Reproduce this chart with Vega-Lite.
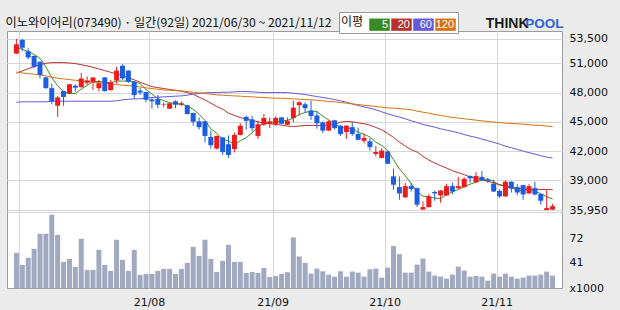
{
  "$schema": "https://vega.github.io/schema/vega-lite/v6.json",
  "autosize": "none",
  "padding": {"left": 7, "top": 31, "right": 58, "bottom": 22},
  "width": 555,
  "height": 257,
  "background": "#ebebeb",
  "config": {
    "view": {"stroke": "#9c9c9c", "fill": "white"},
    "axis": {"labelFont": "DejaVu Sans", "labelFontSize": 11, "labelColor": "#111111", "ticks": false, "tickSize": 0, "domain": false, "labelPadding": 7, "gridColor": "#d6d6d6"}
  },
  "datasets": {
    "d": [
      {"i":0,"o":52000,"h":53500,"l":51950,"c":52950,"v":53.6,"m5":52650,"m20":49980,"m60":47010,"m120":50110},
      {"i":1,"o":53400,"h":53500,"l":52250,"c":52600,"v":38.5,"m5":52450,"m20":50220,"m60":47050,"m120":50010},
      {"i":2,"o":52250,"h":52550,"l":51400,"c":51600,"v":47.3,"m5":52200,"m20":50450,"m60":47050,"m120":49940},
      {"i":3,"o":51750,"h":51800,"l":50500,"c":50650,"v":58.6,"m5":51900,"m20":50660,"m60":47050,"m120":49880},
      {"i":4,"o":51150,"h":51200,"l":49450,"c":49800,"v":77.4,"m5":51520,"m20":50860,"m60":47050,"m120":49810},
      {"i":5,"o":49550,"h":49600,"l":48400,"c":48450,"v":77.4,"m5":50620,"m20":51000,"m60":47050,"m120":49700},
      {"i":6,"o":48450,"h":48900,"l":46800,"c":47100,"v":101.2,"m5":49520,"m20":51070,"m60":47110,"m120":49570},
      {"i":7,"o":46650,"h":47650,"l":45500,"c":47500,"v":76.1,"m5":48700,"m20":51070,"m60":47110,"m120":49470},
      {"i":8,"o":48150,"h":48200,"l":46650,"c":47550,"v":42.3,"m5":48080,"m20":51070,"m60":47110,"m120":49400},
      {"i":9,"o":47900,"h":48900,"l":47850,"c":48850,"v":46.0,"m5":47890,"m20":51030,"m60":47110,"m120":49330},
      {"i":10,"o":48700,"h":48850,"l":48100,"c":48500,"v":36.0,"m5":47900,"m20":50970,"m60":47110,"m120":49260},
      {"i":11,"o":48550,"h":50000,"l":48500,"c":49450,"v":71.1,"m5":48370,"m20":50860,"m60":47110,"m120":49190},
      {"i":12,"o":49000,"h":49650,"l":48800,"c":49250,"v":32.2,"m5":48720,"m20":50730,"m60":47110,"m120":49130},
      {"i":13,"o":49100,"h":49550,"l":48250,"c":49550,"v":32.2,"m5":49120,"m20":50590,"m60":47110,"m120":49060},
      {"i":14,"o":48450,"h":49300,"l":48100,"c":48950,"v":57.3,"m5":49140,"m20":50420,"m60":47110,"m120":49020},
      {"i":15,"o":49550,"h":49600,"l":48100,"c":48150,"v":38.5,"m5":49070,"m20":50250,"m60":47110,"m120":48950},
      {"i":16,"o":48250,"h":49300,"l":48200,"c":49050,"v":31.0,"m5":48990,"m20":50080,"m60":47110,"m120":48890},
      {"i":17,"o":49250,"h":50650,"l":48900,"c":50250,"v":69.9,"m5":49190,"m20":49910,"m60":47150,"m120":48820},
      {"i":18,"o":50750,"h":50900,"l":49300,"c":49450,"v":44.8,"m5":49170,"m20":49740,"m60":47250,"m120":48750},
      {"i":19,"o":50250,"h":50300,"l":49000,"c":49100,"v":31.0,"m5":49200,"m20":49530,"m60":47320,"m120":48720},
      {"i":20,"o":49100,"h":49150,"l":47350,"c":47750,"v":57.3,"m5":49120,"m20":49300,"m60":47350,"m120":48650},
      {"i":21,"o":48200,"h":48500,"l":47750,"c":48000,"v":25.9,"m5":48910,"m20":49060,"m60":47350,"m120":48580},
      {"i":22,"o":48050,"h":48100,"l":47000,"c":47250,"v":27.2,"m5":48310,"m20":48820,"m60":47420,"m120":48480},
      {"i":23,"o":47300,"h":47500,"l":46350,"c":47100,"v":27.2,"m5":47840,"m20":48610,"m60":47490,"m120":48410},
      {"i":24,"o":47350,"h":47750,"l":46400,"c":46750,"v":31.0,"m5":47370,"m20":48510,"m60":47520,"m120":48340},
      {"i":25,"o":46750,"h":47000,"l":46500,"c":46800,"v":33.5,"m5":47180,"m20":48410,"m60":47560,"m120":48270},
      {"i":26,"o":46350,"h":46950,"l":46300,"c":46900,"v":33.5,"m5":46960,"m20":48310,"m60":47590,"m120":48240},
      {"i":27,"o":47100,"h":47200,"l":46400,"c":46750,"v":27.2,"m5":46860,"m20":48240,"m60":47630,"m120":48200},
      {"i":28,"o":46750,"h":47100,"l":46600,"c":46900,"v":33.5,"m5":46820,"m20":48140,"m60":47660,"m120":48170},
      {"i":29,"o":46700,"h":46750,"l":45750,"c":45800,"v":41.0,"m5":46630,"m20":48000,"m60":47730,"m120":48100},
      {"i":30,"o":45900,"h":45950,"l":44600,"c":45000,"v":61.1,"m5":46270,"m20":47830,"m60":47830,"m120":48030},
      {"i":31,"o":45050,"h":45450,"l":44200,"c":44450,"v":49.8,"m5":45780,"m20":47520,"m60":47900,"m120":47970},
      {"i":32,"o":45050,"h":45100,"l":42900,"c":43550,"v":69.9,"m5":45140,"m20":47250,"m60":47970,"m120":47900},
      {"i":33,"o":43450,"h":44100,"l":42250,"c":42600,"v":46.0,"m5":44280,"m20":46910,"m60":48000,"m120":47830},
      {"i":34,"o":42250,"h":43600,"l":42150,"c":43550,"v":29.7,"m5":43830,"m20":46570,"m60":48000,"m120":47760},
      {"i":35,"o":43400,"h":43450,"l":41600,"c":41900,"v":43.5,"m5":43210,"m20":46300,"m60":48030,"m120":47730},
      {"i":36,"o":42700,"h":43600,"l":41300,"c":41600,"v":63.6,"m5":43040,"m20":45890,"m60":48030,"m120":47690},
      {"i":37,"o":42200,"h":43900,"l":41850,"c":43650,"v":42.3,"m5":42660,"m20":45650,"m60":48070,"m120":47660},
      {"i":38,"o":43650,"h":44850,"l":43600,"c":44600,"v":42.3,"m5":43060,"m20":45440,"m60":48100,"m120":47630},
      {"i":39,"o":45500,"h":45650,"l":44200,"c":45100,"v":28.4,"m5":43370,"m20":45270,"m60":48100,"m120":47590},
      {"i":40,"o":45250,"h":45600,"l":44000,"c":44350,"v":29.7,"m5":43860,"m20":45140,"m60":48070,"m120":47560},
      {"i":41,"o":43550,"h":45100,"l":43250,"c":44750,"v":28.4,"m5":44490,"m20":45000,"m60":48030,"m120":47520},
      {"i":42,"o":44700,"h":45800,"l":44600,"c":45400,"v":34.7,"m5":44840,"m20":44860,"m60":48000,"m120":47490},
      {"i":43,"o":44800,"h":45450,"l":44350,"c":45050,"v":23.4,"m5":44930,"m20":44800,"m60":48000,"m120":47450},
      {"i":44,"o":44750,"h":45550,"l":44600,"c":45400,"v":24.7,"m5":44990,"m20":44730,"m60":48000,"m120":47420},
      {"i":45,"o":45450,"h":45500,"l":44750,"c":44800,"v":27.2,"m5":45080,"m20":44660,"m60":48000,"m120":47420},
      {"i":46,"o":44700,"h":45450,"l":44650,"c":45100,"v":29.3,"m5":45150,"m20":44560,"m60":48000,"m120":47390},
      {"i":47,"o":45400,"h":47150,"l":44950,"c":46450,"v":72.8,"m5":45360,"m20":44520,"m60":47930,"m120":47350},
      {"i":48,"o":46700,"h":47150,"l":45650,"c":47000,"v":49.0,"m5":45750,"m20":44560,"m60":47860,"m120":47320},
      {"i":49,"o":46800,"h":47000,"l":45900,"c":46400,"v":41.0,"m5":45950,"m20":44630,"m60":47800,"m120":47280},
      {"i":50,"o":46150,"h":47150,"l":45200,"c":45600,"v":27.6,"m5":46110,"m20":44630,"m60":47690,"m120":47250},
      {"i":51,"o":45650,"h":46050,"l":44300,"c":44850,"v":33.9,"m5":46060,"m20":44630,"m60":47590,"m120":47220},
      {"i":52,"o":44950,"h":45050,"l":43850,"c":44100,"v":30.5,"m5":45590,"m20":44630,"m60":47490,"m120":47150},
      {"i":53,"o":44100,"h":45150,"l":44050,"c":45050,"v":26.3,"m5":45200,"m20":44660,"m60":47390,"m120":47080},
      {"i":54,"o":45150,"h":45200,"l":44200,"c":44350,"v":23.8,"m5":44790,"m20":44730,"m60":47280,"m120":47050},
      {"i":55,"o":44600,"h":44650,"l":43550,"c":43750,"v":30.5,"m5":44420,"m20":44970,"m60":47150,"m120":46980},
      {"i":56,"o":43950,"h":44650,"l":43250,"c":44600,"v":23.8,"m5":44370,"m20":45030,"m60":47010,"m120":46910},
      {"i":57,"o":44450,"h":44950,"l":43550,"c":43750,"v":30.1,"m5":44300,"m20":45000,"m60":46840,"m120":46840},
      {"i":58,"o":43750,"h":44400,"l":43100,"c":43150,"v":28.8,"m5":43920,"m20":44900,"m60":46670,"m120":46770},
      {"i":59,"o":43050,"h":43800,"l":42800,"c":43350,"v":23.8,"m5":43720,"m20":44800,"m60":46530,"m120":46700},
      {"i":60,"o":43000,"h":43350,"l":42050,"c":42400,"v":33.0,"m5":43450,"m20":44660,"m60":46400,"m120":46640},
      {"i":61,"o":41700,"h":42500,"l":41450,"c":41900,"v":33.9,"m5":42910,"m20":44420,"m60":46230,"m120":46570},
      {"i":62,"o":41300,"h":42300,"l":41250,"c":42050,"v":22.6,"m5":42570,"m20":44180,"m60":46020,"m120":46500},
      {"i":63,"o":41950,"h":42000,"l":40650,"c":40700,"v":35.1,"m5":42080,"m20":43810,"m60":45820,"m120":46430},
      {"i":64,"o":39400,"h":40200,"l":38050,"c":38550,"v":62.0,"m5":41120,"m20":43400,"m60":45650,"m120":46400},
      {"i":65,"o":38300,"h":39400,"l":37000,"c":37650,"v":51.9,"m5":40170,"m20":42920,"m60":45480,"m120":46360},
      {"i":66,"o":37250,"h":38750,"l":37200,"c":38400,"v":28.8,"m5":39470,"m20":42510,"m60":45310,"m120":46300},
      {"i":67,"o":38400,"h":38750,"l":37850,"c":38100,"v":28.8,"m5":38680,"m20":42140,"m60":45100,"m120":46230},
      {"i":68,"o":38200,"h":38250,"l":36250,"c":36500,"v":38.9,"m5":37840,"m20":41900,"m60":44930,"m120":46090},
      {"i":69,"o":36000,"h":36850,"l":35980,"c":36250,"v":46.4,"m5":37380,"m20":41450,"m60":44730,"m120":45990},
      {"i":70,"o":36250,"h":37600,"l":36200,"c":37350,"v":30.1,"m5":37320,"m20":41080,"m60":44590,"m120":45890},
      {"i":71,"o":37800,"h":37950,"l":36900,"c":37650,"v":25.1,"m5":37170,"m20":40770,"m60":44450,"m120":45750},
      {"i":72,"o":37450,"h":38000,"l":36700,"c":37950,"v":23.8,"m5":37140,"m20":40500,"m60":44280,"m120":45650},
      {"i":73,"o":37450,"h":38650,"l":37400,"c":38400,"v":21.3,"m5":37520,"m20":40260,"m60":44150,"m120":45550},
      {"i":74,"o":38400,"h":38750,"l":37550,"c":37850,"v":26.3,"m5":37840,"m20":39990,"m60":44010,"m120":45440},
      {"i":75,"o":38200,"h":39350,"l":38050,"c":38400,"v":36.4,"m5":38050,"m20":39780,"m60":43880,"m120":45380},
      {"i":76,"o":38300,"h":39300,"l":38250,"c":39150,"v":31.4,"m5":38350,"m20":39580,"m60":43700,"m120":45310},
      {"i":77,"o":39450,"h":39500,"l":38750,"c":39200,"v":23.8,"m5":38600,"m20":39340,"m60":43530,"m120":45240},
      {"i":78,"o":38800,"h":39850,"l":38750,"c":39450,"v":24.7,"m5":38810,"m20":39200,"m60":43400,"m120":45170},
      {"i":79,"o":39350,"h":39950,"l":38900,"c":39000,"v":23.8,"m5":39040,"m20":39070,"m60":43230,"m120":45100},
      {"i":80,"o":39050,"h":39250,"l":38750,"c":38900,"v":18.8,"m5":39140,"m20":38900,"m60":43060,"m120":45030},
      {"i":81,"o":38650,"h":39050,"l":37800,"c":37850,"v":27.6,"m5":38880,"m20":38730,"m60":42890,"m120":44970},
      {"i":82,"o":37900,"h":38050,"l":37200,"c":37350,"v":23.8,"m5":38510,"m20":38560,"m60":42720,"m120":44930},
      {"i":83,"o":37350,"h":39000,"l":37300,"c":38850,"v":27.6,"m5":38390,"m20":38420,"m60":42510,"m120":44860},
      {"i":84,"o":38850,"h":38900,"l":37750,"c":38150,"v":23.8,"m5":38220,"m20":38280,"m60":42340,"m120":44830},
      {"i":85,"o":38300,"h":38600,"l":37450,"c":37750,"v":21.3,"m5":37990,"m20":38180,"m60":42170,"m120":44800},
      {"i":86,"o":38500,"h":38550,"l":37000,"c":37550,"v":22.6,"m5":37930,"m20":38110,"m60":42000,"m120":44760},
      {"i":87,"o":37650,"h":38600,"l":37600,"c":38400,"v":25.1,"m5":38140,"m20":38080,"m60":41830,"m120":44690},
      {"i":88,"o":38200,"h":38850,"l":37450,"c":37550,"v":25.1,"m5":37880,"m20":38050,"m60":41690,"m120":44660},
      {"i":89,"o":37600,"h":37650,"l":36500,"c":36900,"v":26.3,"m5":37630,"m20":38050,"m60":41520,"m120":44630},
      {"i":90,"o":35950,"h":38000,"l":35950,"c":36150,"v":30.1,"m5":37310,"m20":38050,"m60":41390,"m120":44560},
      {"i":91,"o":36000,"h":36600,"l":35960,"c":36350,"v":25.1,"m5":37070,"m20":38050,"m60":41280,"m120":44490}
    ]
  },
  "data": {"name": "d"},
  "encoding": {
    "x": {"field": "i", "type": "quantitative", "scale": {"domain": [-0.75, 91.75], "nice": false, "zero": false},
      "axis": {"values": [0.5, 22.5, 43.5, 62.5, 81.5], "grid": true, "labelPadding": 8, "labelOverlap": false, "labelFlush": false,
        "labelExpr": "datum.value == 22.5 ? '21/08' : datum.value == 43.5 ? '21/09' : datum.value == 62.5 ? '21/10' : datum.value == 81.5 ? '21/11' : ''",
        "title": "POOL", "titleX": 556, "titleY": -261, "titleAngle": 0, "titleAlign": "right", "titleBaseline": "alphabetic",
        "titleFont": "Liberation Sans", "titleFontSize": 13.5, "titleFontWeight": "bold", "titleColor": "#2f63d4"}}
  },
  "layer": [
    {
      "layer": [
        {
          "transform": [{"fold": ["m5", "m20", "m60", "m120"], "as": ["k", "val"]}],
          "mark": {"type": "line", "strokeWidth": 1},
          "encoding": {
            "y": {"field": "val", "type": "quantitative", "scale": {"domain": [27954, 54313], "zero": false, "nice": false},
              "axis": {"orient": "right", "values": [35749, 35950, 39000, 42000, 45000, 48000, 51000, 53500],
                "labelExpr": "datum.value === 35749 ? '' : format(datum.value, ',')",
                "title": "THINK", "titleX": -34, "titleY": -4, "titleAngle": 0, "titleAlign": "right", "titleBaseline": "alphabetic",
                "titleFont": "Liberation Sans", "titleFontSize": 14, "titleFontWeight": "bold", "titleColor": "#1c1c1c",
                "encode": {
                  "labels": {"update": {"fill": {"signal": "datum.value === 53500 ? '#cf6a0c' : datum.value === 35950 ? '#1414c8' : '#111111'"}, "dy": {"signal": "datum.value === 35950 ? -3 : 0"}}},
                  "grid": {"update": {"stroke": {"signal": "datum.value === 35749 ? '#9c9c9c' : (datum.value === 35950 || datum.value === 53500) ? 'rgba(0,0,0,0)' : '#d6d6d6'"}}}
                }}},
            "color": {"field": "k", "type": "nominal",
              "scale": {"domain": ["m5", "m20", "m60", "m120"], "range": ["#3b8a24", "#b8312b", "#6658d6", "#d8720c"]},
              "legend": {"orient": "none", "legendX": 332, "legendY": -19, "direction": "horizontal", "title": "이평", "titleOrient": "left",
                "titleFont": "Noto Sans CJK KR", "titleFontSize": 12, "titleFontWeight": "normal", "titleColor": "#111111", "titlePadding": 5,
                "symbolType": "M-1,-0.6L1,-0.6L1,0.6L-1,0.6Z", "symbolSize": 420, "labelAlign": "right", "labelOffset": -2,
                "labelColor": "white", "labelFont": "Liberation Sans", "labelFontSize": 11, "labelExpr": "replace(datum.label, 'm', '')",
                "columnPadding": 1, "padding": 2, "strokeColor": "#999999", "fillColor": "white",
                "encode": {"symbols": {"update": {"fill": {"scale": "color", "field": "value"}, "fillOpacity": {"value": 1}, "strokeWidth": {"value": 0}, "opacity": {"value": 1}}}}}}
          }
        },
        {
          "mark": {"type": "rule", "strokeWidth": 1},
          "encoding": {
            "y": {"field": "l", "type": "quantitative", "scale": {"domain": [27954, 54313], "zero": false, "nice": false},
              "axis": {"orient": "right", "values": [35749, 35950, 39000, 42000, 45000, 48000, 51000, 53500],
                "labelExpr": "datum.value === 35749 ? '' : format(datum.value, ',')",
                "title": "THINK", "titleX": -34, "titleY": -4, "titleAngle": 0, "titleAlign": "right", "titleBaseline": "alphabetic",
                "titleFont": "Liberation Sans", "titleFontSize": 14, "titleFontWeight": "bold", "titleColor": "#1c1c1c",
                "encode": {
                  "labels": {"update": {"fill": {"signal": "datum.value === 53500 ? '#cf6a0c' : datum.value === 35950 ? '#1414c8' : '#111111'"}, "dy": {"signal": "datum.value === 35950 ? -3 : 0"}}},
                  "grid": {"update": {"stroke": {"signal": "datum.value === 35749 ? '#9c9c9c' : (datum.value === 35950 || datum.value === 53500) ? 'rgba(0,0,0,0)' : '#d6d6d6'"}}}
                }}},
            "y2": {"field": "h"},
            "color": {"condition": {"test": "datum.c >= datum.o", "value": "#ec1c1c"}, "value": "#1d5de0"}
          }
        },
        {
          "mark": {"type": "bar", "width": 5},
          "encoding": {
            "y": {"field": "o", "type": "quantitative", "scale": {"domain": [27954, 54313], "zero": false, "nice": false},
              "axis": {"orient": "right", "values": [35749, 35950, 39000, 42000, 45000, 48000, 51000, 53500],
                "labelExpr": "datum.value === 35749 ? '' : format(datum.value, ',')",
                "title": "THINK", "titleX": -34, "titleY": -4, "titleAngle": 0, "titleAlign": "right", "titleBaseline": "alphabetic",
                "titleFont": "Liberation Sans", "titleFontSize": 14, "titleFontWeight": "bold", "titleColor": "#1c1c1c",
                "encode": {
                  "labels": {"update": {"fill": {"signal": "datum.value === 53500 ? '#cf6a0c' : datum.value === 35950 ? '#1414c8' : '#111111'"}, "dy": {"signal": "datum.value === 35950 ? -3 : 0"}}},
                  "grid": {"update": {"stroke": {"signal": "datum.value === 35749 ? '#9c9c9c' : (datum.value === 35950 || datum.value === 53500) ? 'rgba(0,0,0,0)' : '#d6d6d6'"}}}
                }}},
            "y2": {"field": "c"},
            "color": {"condition": {"test": "datum.c >= datum.o", "value": "#ec1c1c"}, "value": "#1d5de0"}
          }
        }
      ]
    },
    {
      "mark": {"type": "bar", "width": 5, "color": "#a1a9c0"},
      "encoding": {
        "y": {"field": "v", "type": "quantitative", "scale": {"domain": [9.6, 330.85], "zero": false, "nice": false},
          "axis": {"orient": "right", "values": [9.6, 41, 72], "labelExpr": "datum.value < 20 ? 'x1000' : datum.label",
            "title": "이노와이어리(073490) · 일간(92일) 2021/06/30 ~ 2021/11/12", "titleX": -557, "titleY": -5, "titleAngle": 0, "titleAlign": "left", "titleBaseline": "alphabetic",
            "titleFont": "Noto Sans CJK KR", "titleFontSize": 12.2, "titleFontWeight": "normal", "titleColor": "#111111",
            "encode": {"grid": {"update": {"stroke": {"signal": "datum.value < 20 ? 'rgba(0,0,0,0)' : '#d6d6d6'"}}}}}},
        "y2": {"datum": 9.6}
      }
    }
  ],
  "resolve": {"scale": {"y": "independent"}, "axis": {"y": "independent"}}
}
